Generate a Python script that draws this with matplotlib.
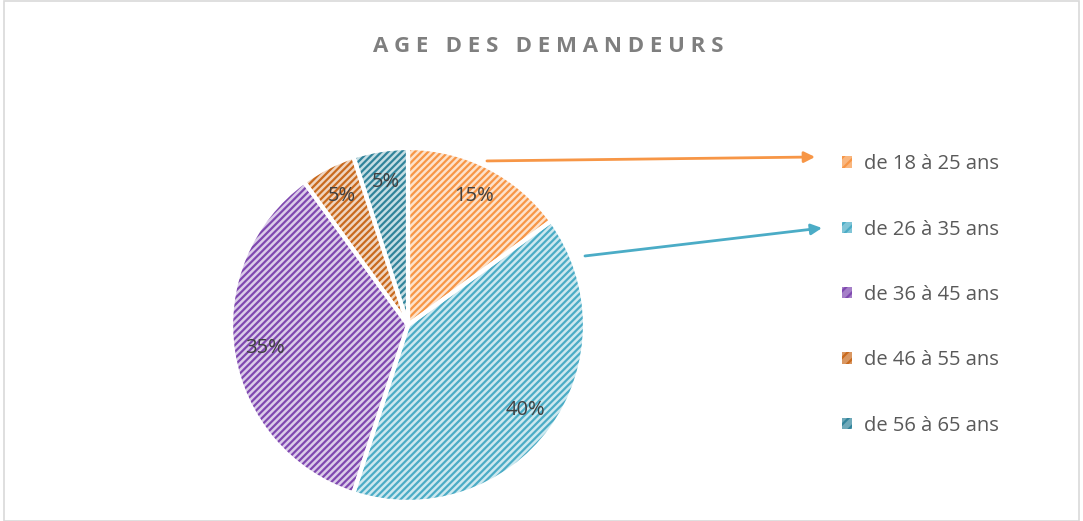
import numpy as np
import matplotlib
matplotlib.use("Agg")
from matplotlib import pyplot as plt
from matplotlib.patches import Patch, Rectangle
from matplotlib.colors import to_rgb

plt.rcParams['font.family'] = ['Open Sans', 'DejaVu Sans']
plt.rcParams['hatch.linewidth'] = 1.6

# data
labels = ["de 18 à 25 ans", "de 26 à 35 ans", "de 36 à 45 ans", "de 46 à 55 ans", "de 56 à 65 ans"]
values = [15, 40, 35, 5, 5]
colors = ["#F79646", "#4BACC6", "#7F48B0", "#C96A1E", "#31849B"]
title = "AGE DES DEMANDEURS"


def tint(c, f=0.72):
  r, g, b = to_rgb(c)
  return (r + (1 - r) * f, g + (1 - g) * f, b + (1 - b) * f)


fig = plt.figure(figsize=(10.83, 5.21), dpi=100)
fig.patch.set_facecolor("white")
fig.patches.append(Rectangle((0.004, 0.0), 0.992, 0.998, transform=fig.transFigure,
                             fill=False, edgecolor="#D9D9D9", lw=1.2))

ax = fig.add_axes([0.2101, 0.0298, 0.3333, 0.6929])

# hatched fill
wedges, _ = ax.pie(values, startangle=90, counterclock=False, radius=1,
                   colors=[tint(c) for c in colors])
for w, c in zip(wedges, colors):
  w.set_hatch("/////")
  w.set_edgecolor(c)
  w.set_linewidth(0)

# white separators + labels
wedges2, texts = ax.pie(values, startangle=90, counterclock=False, radius=1,
                        labels=[f"{v}%" for v in values], labeldistance=0.82,
                        wedgeprops=dict(fill=False, edgecolor="white", linewidth=3),
                        textprops=dict(fontsize=14.5, color="#404040"))
for t in texts:
  t.set_ha("center")
  t.set_va("center")
ax.set_xlim(-1.02, 1.02)
ax.set_ylim(-1.02, 1.02)
ax.set_aspect("equal")

fig.text(0.506, 0.91, " ".join(title), ha="center", va="center",
         fontsize=16, fontweight="bold", color="#7F7F7F")

# legend
handles = [Patch(facecolor=tint(c, 0.3), edgecolor=c, hatch="///", lw=0) for c in colors]
leg = fig.legend(handles, labels, loc="center left", bbox_to_anchor=(0.761, 0.434),
                 frameon=False, fontsize=14.5, handlelength=0.5, handleheight=0.5,
                 handletextpad=0.6, labelspacing=2.25, labelcolor="#595959")

# arrows from wedges to legend entries
ax.annotate("", xy=(0.7526, 0.6987), xycoords="figure fraction",
            xytext=(0.446, 0.927), textcoords="data",
            arrowprops=dict(arrowstyle="-|>", color=colors[0], lw=2, mutation_scale=16,
                            shrinkA=0, shrinkB=0))
ax.annotate("", xy=(0.759, 0.5624), xycoords="figure fraction",
            xytext=(1.0, 0.39), textcoords="data",
            arrowprops=dict(arrowstyle="-|>", color=colors[1], lw=2, mutation_scale=16,
                            shrinkA=0, shrinkB=0))

fig.savefig("out.png", dpi=100)
